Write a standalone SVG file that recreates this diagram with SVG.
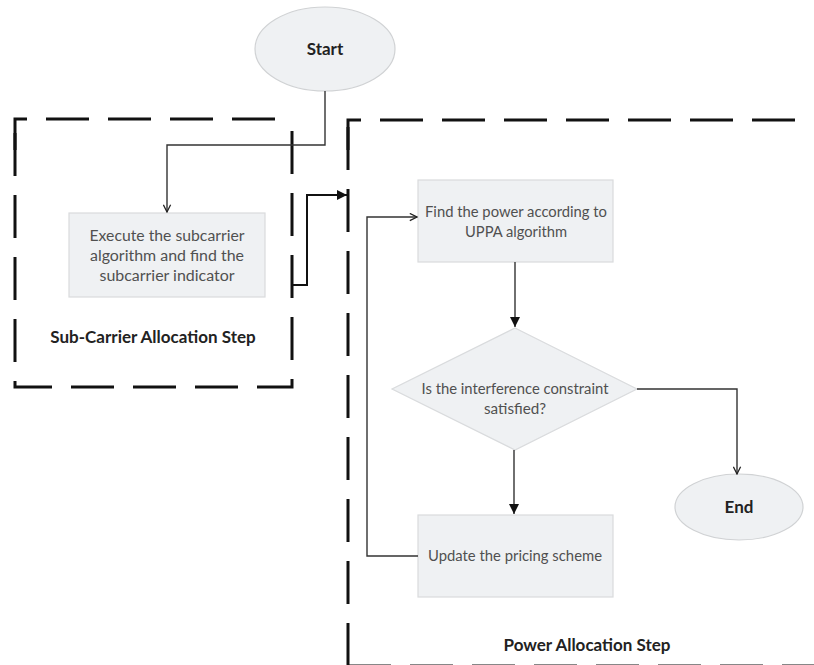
<svg xmlns="http://www.w3.org/2000/svg" width="814" height="665" viewBox="0 0 814 665">
<defs>
<marker id="filled" viewBox="0 0 10 10" refX="10" refY="5" markerWidth="10" markerHeight="10" markerUnits="userSpaceOnUse" orient="auto">
<path d="M0,0 L10,5 L0,10 z" fill="#111"/>
</marker>
<marker id="open" viewBox="0 0 10 10" refX="9" refY="5" markerWidth="9" markerHeight="9" markerUnits="userSpaceOnUse" orient="auto">
<path d="M1,1 L9,5 L1,9" fill="none" stroke="#222" stroke-width="1.4"/>
</marker>
</defs>
<style>
.frame{fill:none;stroke:#111;stroke-width:3;stroke-dasharray:43 19}
.box{fill:#eff1f3;stroke:#d9dbdd;stroke-width:1.2}
.term{fill:#eff1f3;stroke:#d0d2d4;stroke-width:1.2}
.txt{font-family:Lato,"Liberation Sans",sans-serif;font-size:15.5px;fill:#505050;text-anchor:middle}
.bold{font-family:Lato,"Liberation Sans",sans-serif;font-size:17px;font-weight:bold;fill:#222;text-anchor:middle}
.conn{fill:none;stroke:#333;stroke-width:1.4}
.conn2{fill:none;stroke:#111;stroke-width:2}
</style>
<rect width="814" height="665" fill="#ffffff"/>
<g id="subcarrier-step">
<path class="frame" d="M15,150 V119 H290"/>
<path class="frame" d="M292,131 V387 H15 V119"/>
<text class="bold" x="153" y="343">Sub-Carrier Allocation Step</text>
</g>
<g id="power-step">
<path class="frame" d="M348,150 V120 H830"/>
<path class="frame" d="M348,666 V120"/>
<path class="frame" d="M348,666 H830"/>
<text class="bold" x="587" y="651">Power Allocation Step</text>
</g>
<g id="start">
<ellipse class="term" cx="325" cy="49" rx="70" ry="42"/>
<text class="bold" x="325" y="55">Start</text>
</g>
<g id="execute">
<rect class="box" x="69" y="213" width="196" height="84"/>
<text class="txt" x="167" y="241" textLength="155" lengthAdjust="spacingAndGlyphs">Execute the subcarrier</text>
<text class="txt" x="167" y="261" textLength="154" lengthAdjust="spacingAndGlyphs">algorithm and find the</text>
<text class="txt" x="167" y="281" textLength="135" lengthAdjust="spacingAndGlyphs">subcarrier indicator</text>
</g>
<g id="find-power">
<rect class="box" x="418" y="180" width="195" height="82"/>
<text class="txt" x="516" y="217" textLength="182" lengthAdjust="spacingAndGlyphs">Find the power according to</text>
<text class="txt" x="516" y="237" textLength="102" lengthAdjust="spacingAndGlyphs">UPPA algorithm</text>
</g>
<g id="decision">
<polygon class="box" points="515,328 637,389 515,450 392,389"/>
<text class="txt" x="515" y="394" textLength="187" lengthAdjust="spacingAndGlyphs">Is the interference constraint</text>
<text class="txt" x="515" y="414" textLength="62" lengthAdjust="spacingAndGlyphs">satisfied?</text>
</g>
<g id="update">
<rect class="box" x="418" y="515" width="195" height="82"/>
<text class="txt" x="515" y="561" textLength="174" lengthAdjust="spacingAndGlyphs">Update the pricing scheme</text>
</g>
<g id="end">
<ellipse class="term" cx="739" cy="507" rx="64" ry="33"/>
<text class="bold" x="739" y="513">End</text>
</g>
<g id="connectors">
<path class="conn" d="M325,91 V145 H167 V212" marker-end="url(#open)"/>
<path class="conn2" d="M292,285 H307 V195 H347" marker-end="url(#filled)"/>
<path class="conn" d="M515,262 V327" marker-end="url(#filled)"/>
<path class="conn" d="M514,450 V514" marker-end="url(#filled)"/>
<path class="conn" d="M637,389 H737 V474" marker-end="url(#open)"/>
<path class="conn" d="M418,556 H367 V217 H417" marker-end="url(#open)"/>
</g>
</svg>
